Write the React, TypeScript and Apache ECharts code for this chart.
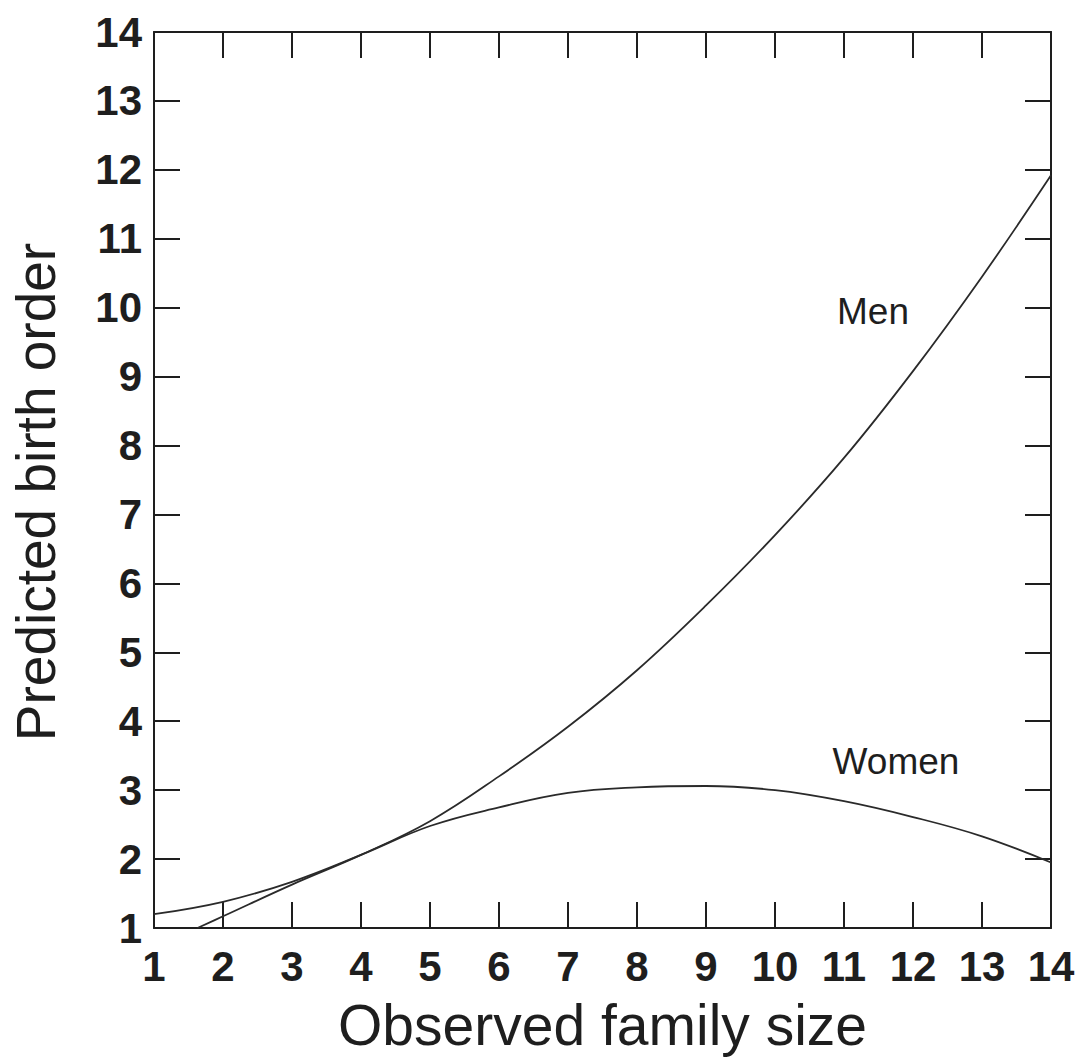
import React, { useEffect, useRef } from "react";
import * as echarts from "echarts";

const familySize = [1, 2, 3, 4, 5, 6, 7, 8, 9, 10, 11, 12, 13, 14];
const womenValues = [1.2, 1.38, 1.67, 2.06, 2.48, 2.75, 2.96, 3.04, 3.06, 3.0, 2.84, 2.61, 2.33, 1.95];
const menX = [1.63, 2, 3, 4, 5, 6, 7, 8, 9, 10, 11, 12, 13, 14];
const menValues = [1.0, 1.17, 1.63, 2.06, 2.55, 3.2, 3.92, 4.74, 5.68, 6.7, 7.82, 9.08, 10.45, 11.92];
const axisMin = 1;
const axisMax = 14;
const xTitle = "Observed family size";
const yTitle = "Predicted birth order";
const seriesNames = ["Men", "Women"];

const FONT = "'Liberation Sans', Arial, sans-serif";
const INK = "#1e1e1e";

export default function App() {
  const ref = useRef<HTMLDivElement>(null);
  useEffect(() => {
    document.body.style.margin = "0";
    if (!ref.current) return;
    const chart = echarts.init(ref.current, null, { renderer: "svg" });
    const tickCommon = {
      show: true,
      inside: true,
      length: 26,
      lineStyle: { color: INK, width: 2 },
    };
    const lineCommon = { show: true, lineStyle: { color: INK, width: 2 } };
    const labelCommon = {
      fontFamily: FONT,
      fontWeight: "bold" as const,
      fontSize: 42,
      color: INK,
    };
    chart.setOption({
      animation: false,
      backgroundColor: "#ffffff",
      grid: { left: 154, right: 30, top: 32, bottom: 131, containLabel: false },
      xAxis: [
        {
          type: "value",
          position: "bottom",
          min: axisMin,
          max: axisMax,
          interval: 1,
          axisLine: lineCommon,
          axisTick: tickCommon,
          splitLine: { show: false },
          axisLabel: { ...labelCommon, margin: 17 },
          name: xTitle,
          nameLocation: "middle",
          nameGap: 68,
          nameTextStyle: { fontFamily: FONT, fontSize: 57, color: INK },
        },
        {
          type: "value",
          position: "top",
          min: axisMin,
          max: axisMax,
          interval: 1,
          axisLine: lineCommon,
          axisTick: tickCommon,
          splitLine: { show: false },
          axisLabel: { show: false },
        },
      ],
      yAxis: [
        {
          type: "value",
          position: "left",
          min: axisMin,
          max: axisMax,
          interval: 1,
          axisLine: lineCommon,
          axisTick: tickCommon,
          splitLine: { show: false },
          axisLabel: { ...labelCommon, margin: 12 },
          name: yTitle,
          nameLocation: "middle",
          nameGap: 91,
          nameTextStyle: {
            fontFamily: FONT,
            fontSize: 55,
            color: INK,
            padding: [0, 24, 0, 0],
          },
        },
        {
          type: "value",
          position: "right",
          min: axisMin,
          max: axisMax,
          interval: 1,
          axisLine: lineCommon,
          axisTick: tickCommon,
          splitLine: { show: false },
          axisLabel: { show: false },
        },
      ],
      series: [
        {
          name: seriesNames[0],
          type: "line",
          xAxisIndex: 0,
          yAxisIndex: 0,
          data: menX.map((x, i) => [x, menValues[i]]),
          smooth: 0.4,
          showSymbol: false,
          lineStyle: { color: "#2a2a2a", width: 1.8 },
          clip: true,
        },
        {
          name: seriesNames[1],
          type: "line",
          xAxisIndex: 0,
          yAxisIndex: 0,
          data: familySize.map((x, i) => [x, womenValues[i]]),
          smooth: 0.4,
          showSymbol: false,
          lineStyle: { color: "#2a2a2a", width: 1.8 },
          clip: true,
        },
      ],
      graphic: [
        {
          type: "text",
          x: 873,
          y: 311,
          style: {
            text: seriesNames[0],
            fontFamily: FONT,
            fontSize: 37,
            fill: INK,
            textAlign: "center",
            textVerticalAlign: "middle",
          },
        },
        {
          type: "text",
          x: 896,
          y: 761,
          style: {
            text: seriesNames[1],
            fontFamily: FONT,
            fontSize: 37,
            fill: INK,
            textAlign: "center",
            textVerticalAlign: "middle",
          },
        },
      ],
    });
    return () => chart.dispose();
  }, []);
  return <div ref={ref} style={{ width: 1081, height: 1059 }} />;
}
